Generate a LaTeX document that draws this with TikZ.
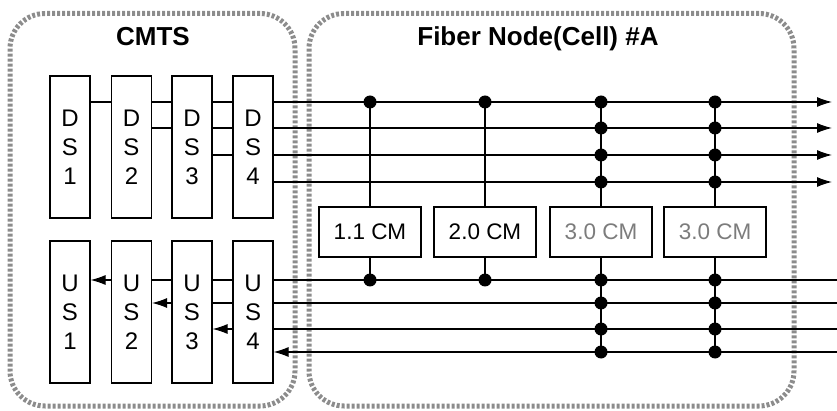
\documentclass[tikz,border=0pt]{standalone}
\usepackage{fontspec}
\setmainfont{Liberation Sans}
\usepackage{tikz}
\usetikzlibrary{arrows.meta,positioning}

\definecolor{framegray}{HTML}{8C8C8C}
\definecolor{cmgray}{HTML}{7C7C7C}

\tikzset{
  region/.style={rectangle, draw=framegray, line width=5pt, dash pattern=on 3pt off 2pt, rounded corners=35pt, inner sep=0pt},
  title/.style={font=\bfseries\fontsize{26}{30}\selectfont},
  chbox/.style={rectangle, draw, line width=1.1pt, minimum width=40pt, minimum height=142pt, inner sep=0pt, align=center, font=\fontsize{24}{29}\selectfont},
  cmbox/.style={rectangle, draw, line width=1.1pt, minimum width=102pt, minimum height=50pt, inner sep=0pt, font=\fontsize{22.5}{27}\selectfont},
  wire/.style={line width=1.1pt},
  wirearrow/.style={line width=1.1pt, -{Latex[length=15pt,width=10pt]}},
}

\begin{document}
\begin{tikzpicture}[x=1pt, y=-1pt]
    \useasboundingbox (0,0) rectangle (837,411);

    % CMTS and Fiber Node frames
    \node[region, minimum width=285pt, minimum height=392.5pt] (cmts) at (152.5,209.75) {};
    \node[region, minimum width=485pt, minimum height=392.5pt] (fiber) at (551.5,209.75) {};
    \node[title, anchor=base] (cmtstitle) at (153,46) {CMTS};
    \node[title, anchor=base] (fibertitle) at (538,46) {Fiber Node(Cell) \#A};

    % DS and US channels
    \foreach \i/\x in {1/70,2/131.5,3/192,4/253} {
        \node[chbox] (ds\i) at (\x,147) {D\\S\\\i};
        \node[chbox] (us\i) at (\x,312) {U\\S\\\i};
    }

    % Cable modems
    \node[cmbox] (cm1) at (370,232) {1.1 CM};
    \node[cmbox] (cm2) at (485,232) {2.0 CM};
    \node[cmbox, text=cmgray] (cm3) at (601,232) {3.0 CM};
    \node[cmbox, text=cmgray] (cm4) at (715,232) {3.0 CM};

    % line levels and free ends
    \foreach \k/\y in {1/102,2/128,3/155,4/182} {
        \coordinate (dl\k) at (0,\y);
        \coordinate (dout\k) at (832,\y);
    }
    \foreach \k/\y in {1/280,2/303,3/329,4/352} {
        \coordinate (ul\k) at (0,\y);
        \coordinate (uin\k) at (837,\y);
    }

    % Downstream
    \foreach \k/\j in {1/1,1/2,1/3,2/2,2/3,3/3} {
        \pgfmathtruncatemacro\n{\j+1}
        \draw[wire] (ds\j.east |- dl\k) -- (ds\n.west |- dl\k);
    }
    \foreach \k in {1,...,4}
        \draw[wirearrow] (ds4.east |- dl\k) -- (dout\k);

    % Upstream
    \foreach \k/\s in {1/wire,2/wire,3/wire,4/wirearrow}
        \draw[\s] (uin\k) -- (us4.east |- ul\k);
    \foreach \k/\j/\s in {1/3/wire,1/2/wire,1/1/wirearrow,2/3/wire,2/2/wirearrow,3/3/wirearrow} {
        \pgfmathtruncatemacro\n{\j+1}
        \draw[\s] (us\n.west |- ul\k) -- (us\j.east |- ul\k);
    }

    % CM taps
    \foreach \m in {1,2} {
        \draw[wire] (cm\m.north) -- (cm\m |- dl1);
        \draw[wire] (cm\m.south) -- (cm\m |- ul1);
        \fill (cm\m |- dl1) circle (6.5pt);
        \fill (cm\m |- ul1) circle (6.5pt);
    }
    \foreach \m in {3,4} {
        \draw[wire] (cm\m.north) -- (cm\m |- dl1);
        \draw[wire] (cm\m.south) -- (cm\m |- ul4);
        \foreach \k in {1,...,4} {
            \fill (cm\m |- dl\k) circle (6.5pt);
            \fill (cm\m |- ul\k) circle (6.5pt);
        }
    }
\end{tikzpicture}
\end{document}
